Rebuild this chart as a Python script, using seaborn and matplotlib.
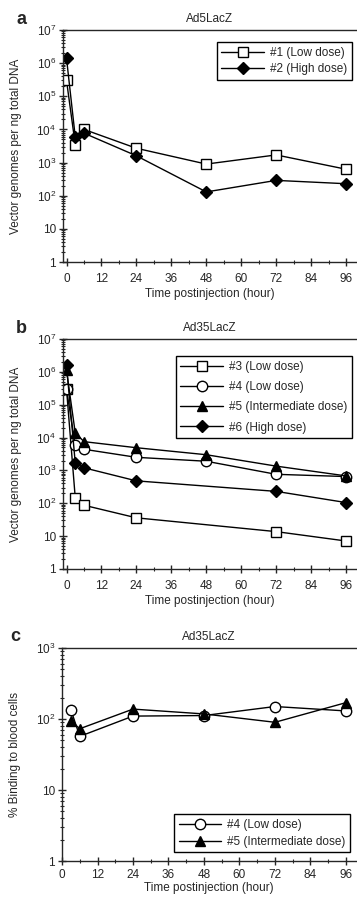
import numpy as np
import pandas as pd
import seaborn as sns
import matplotlib
matplotlib.use("Agg")
import matplotlib.pyplot as plt
from matplotlib.ticker import LogLocator, NullFormatter, MultipleLocator

sns.set_style("ticks")
plt.rcParams['font.family'] = ['Liberation Sans', 'DejaVu Sans']
plt.rcParams['mathtext.default'] = 'regular'
plt.rcParams['axes.linewidth'] = 1.0

# panel a - Ad5LacZ
t_a = [0, 3, 6, 24, 48, 72, 96]
a_low = [3.0e5, 3.5e3, 1.0e4, 2.7e3, 9.0e2, 1.7e3, 6.3e2]
a_high = [1.4e6, 6.0e3, 7.7e3, 1.6e3, 1.3e2, 2.9e2, 2.3e2]

# panel b - Ad35LacZ
t_b3 = [0, 3, 6, 24, 72, 96]
b3_low = [3.0e5, 148, 87, 36, 13.7, 7.1]
t_b4 = [0, 3, 6, 24, 48, 72, 96]
b4_low = [2.9e5, 6.0e3, 4.4e3, 2.5e3, 1.9e3, 760, 650]
t_b5 = [0, 3, 6, 24, 48, 72, 96]
b5_mid = [1.1e6, 1.4e4, 7.5e3, 4.9e3, 3.0e3, 1.35e3, 680]
t_b6 = [0, 3, 6, 24, 72, 96]
b6_high = [1.6e6, 1.7e3, 1.2e3, 480, 230, 105]

# panel c - binding to blood cells
t_c = [3, 6, 24, 48, 72, 96]
c4_low = [135, 57, 110, 112, 150, 130]
c5_mid = [95, 73, 138, 118, 90, 170]

xticks = [0, 12, 24, 36, 48, 60, 72, 84, 96]
xlabel = "Time postinjection (hour)"


def dec_label(e):
    if e == 0:
        return "1"
    if e == 1:
        return "10"
    return "$10^{%d}$" % e


def style_axis(ax, ymax_exp, xmin, xpad=5):
    ax.set_yscale("log")
    ax.set_ylim(1, 10 ** ymax_exp)
    ax.set_xlim(xmin, 99.4)
    ax.set_xticks(xticks)
    ax.xaxis.set_minor_locator(MultipleLocator(6))
    ax.set_yticks([10 ** e for e in range(ymax_exp + 1)])
    ax.set_yticklabels([dec_label(e) for e in range(ymax_exp + 1)])
    ax.yaxis.set_minor_locator(LogLocator(base=10, subs=np.arange(2, 10)))
    ax.yaxis.set_minor_formatter(NullFormatter())
    ax.tick_params(which="major", direction="inout", length=6, width=1, labelsize=8.5)
    ax.tick_params(axis="x", which="major", pad=xpad)
    ax.tick_params(axis="y", which="major", pad=2)
    ax.tick_params(which="minor", direction="inout", length=3, width=0.8)
    ax.spines["right"].set_visible(False)
    ax.set_xlabel(xlabel, fontsize=8.5, labelpad=2 if xpad > 4 else 0.5)
    ax.grid(False)


def draw(ax, x, y, marker, filled, label, ms):
    sns.lineplot(x=x, y=y, ax=ax, color="black", linewidth=1.0, marker=marker,
                 markersize=ms, markerfacecolor="black" if filled else "white",
                 markeredgecolor="black", markeredgewidth=1.0, label=label)


def legend(ax, loc, anchor, spacing):
    leg = ax.legend(loc=loc, bbox_to_anchor=anchor, fontsize=8.5, frameon=True,
                    fancybox=False, edgecolor="black", framealpha=1,
                    handlelength=3.6, handletextpad=0.5, labelspacing=spacing,
                    borderpad=0.4, borderaxespad=0)
    leg.get_frame().set_linewidth(1.0)


fig = plt.figure(figsize=(3.57, 8.97), dpi=100)

# panel a
ax1 = fig.add_axes([0.1765, 0.7079, 0.8205, 0.2587])
draw(ax1, t_a, a_low, "s", False, "#1 (Low dose)", 7)
draw(ax1, t_a, a_high, "D", True, "#2 (High dose)", 6.5)
style_axis(ax1, 7, -1.2)
ax1.set_ylabel("Vector genomes per ng total DNA", fontsize=8.5)
ax1.yaxis.set_label_coords(-0.14, 0.5)
ax1.set_title("Ad5LacZ", fontsize=8.5, pad=6)
legend(ax1, "upper right", (0.986, 0.948), 0.4)
fig.text(0.045, 0.978, "a", fontsize=13, fontweight="bold", va="center")

# panel b
ax2 = fig.add_axes([0.1765, 0.3657, 0.8205, 0.2564])
draw(ax2, t_b3, b3_low, "s", False, "#3 (Low dose)", 7)
draw(ax2, t_b4, b4_low, "o", False, "#4 (Low dose)", 7.5)
draw(ax2, t_b5, b5_mid, "^", True, "#5 (Intermediate dose)", 7)
draw(ax2, t_b6, b6_high, "D", True, "#6 (High dose)", 6.5)
style_axis(ax2, 7, -1.2)
ax2.set_ylabel("Vector genomes per ng total DNA", fontsize=8.5)
ax2.yaxis.set_label_coords(-0.14, 0.5)
ax2.set_title("Ad35LacZ", fontsize=8.5, pad=6)
legend(ax2, "upper right", (0.986, 0.926), 0.7)
fig.text(0.045, 0.634, "b", fontsize=13, fontweight="bold", va="center")

# panel c
ax3 = fig.add_axes([0.1737, 0.040, 0.8235, 0.2376])
draw(ax3, t_c, c4_low, "o", False, "#4 (Low dose)", 7.5)
draw(ax3, t_c, c5_mid, "^", True, "#5 (Intermediate dose)", 7)
style_axis(ax3, 3, 0, xpad=3)
ax3.set_ylabel("% Binding to blood cells", fontsize=8.5)
ax3.yaxis.set_label_coords(-0.14, 0.5)
ax3.set_title("Ad35LacZ", fontsize=8.5, pad=6)
legend(ax3, "lower right", (0.98, 0.041), 0.4)
fig.text(0.03, 0.29, "c", fontsize=13, fontweight="bold", va="center")

fig.savefig("out.png", dpi=100)
